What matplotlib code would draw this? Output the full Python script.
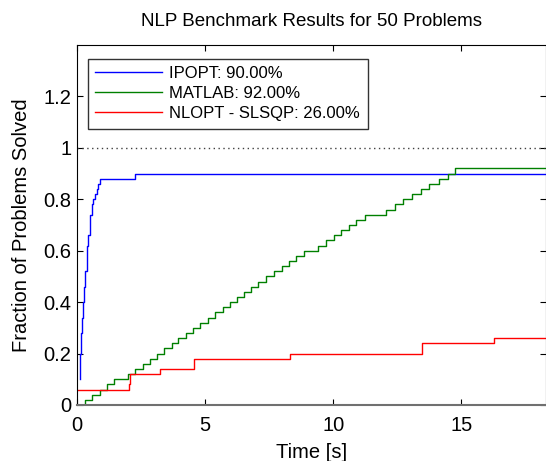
import matplotlib
matplotlib.use('Agg')
import matplotlib.pyplot as plt

plt.rcParams['font.family'] = ['Liberation Sans', 'DejaVu Sans']

# step points (time [s], fraction solved)
ipopt_t = [0.12, 0.13, 0.16, 0.20, 0.23, 0.27, 0.33, 0.39, 0.44, 0.51, 0.57, 0.62,
           0.70, 0.77, 0.83, 0.90, 2.28, 20.0]
ipopt_f = [0.10, 0.20, 0.28, 0.34, 0.40, 0.46, 0.52, 0.62, 0.66, 0.74, 0.78, 0.80,
           0.82, 0.84, 0.86, 0.88, 0.90, 0.90]

matlab_t = [0.33, 0.33, 0.60, 0.88, 1.16, 1.44, 2.00, 2.27, 2.56, 2.85, 3.13, 3.40,
            3.69, 3.96, 4.25, 4.53, 4.81, 5.10, 5.39, 5.68, 5.96, 6.24, 6.52, 6.80,
            7.08, 7.38, 7.67, 7.98, 8.28, 8.56, 8.87, 9.42, 9.73, 10.03, 10.32,
            10.63, 10.90, 11.22, 12.06, 12.41, 12.73, 13.06, 13.41, 13.74, 14.14,
            14.48, 14.74, 20.0]
matlab_f = [0.00, 0.02, 0.04, 0.06, 0.08, 0.10, 0.12, 0.14, 0.16, 0.18, 0.20, 0.22,
            0.24, 0.26, 0.28, 0.30, 0.32, 0.34, 0.36, 0.38, 0.40, 0.42, 0.44, 0.46,
            0.48, 0.50, 0.52, 0.54, 0.56, 0.58, 0.60, 0.62, 0.64, 0.66, 0.68,
            0.70, 0.72, 0.74, 0.76, 0.78, 0.80, 0.82, 0.84, 0.86, 0.88,
            0.90, 0.92, 0.92]

nlopt_t = [0.05, 2.02, 2.06, 3.25, 4.55, 8.30, 13.45, 16.26, 20.0]
nlopt_f = [0.06, 0.08, 0.12, 0.14, 0.18, 0.20, 0.24, 0.26, 0.26]

labels = ['IPOPT: 90.00%', 'MATLAB: 92.00%', 'NLOPT - SLSQP: 26.00%']

fig = plt.figure(figsize=(5.46, 4.61), dpi=100)
ax = fig.add_axes([0.141, 0.1215, 0.859, 0.7809])

ax.step(ipopt_t, ipopt_f, where='post', color='#0000ff', lw=1.0, label=labels[0])
ax.step(matlab_t, matlab_f, where='post', color='#008000', lw=1.0, label=labels[1])
ax.step(nlopt_t, nlopt_f, where='post', color='#ff0000', lw=1.0, label=labels[2])
ax.axhline(1.0, color='#404040', lw=1.0, ls=(0, (1, 2.5)))

ax.set_xlim(0, 18.3)
ax.set_ylim(0, 1.4)
ax.set_xticks([0, 5, 10, 15])
ax.set_yticks([0, 0.2, 0.4, 0.6, 0.8, 1, 1.2])
ax.set_yticklabels(['0', '0.2', '0.4', '0.6', '0.8', '1', '1.2'])
ax.tick_params(direction='in', top=True, right=True, length=4, labelsize=14.5)
ax.tick_params(axis='x', pad=8)
ax.tick_params(axis='y', pad=4)
ax.spines['bottom'].set_color('#707070')
ax.spines['bottom'].set_linewidth(1.5)

ax.set_xlabel('Time [s]', fontsize=14.5, labelpad=6)
ax.set_ylabel('Fraction of Problems Solved', fontsize=14.5, labelpad=9)
ax.set_title('NLP Benchmark Results for 50 Problems', fontsize=13.5, pad=14)

leg = ax.legend(loc='upper left', bbox_to_anchor=(0.023, 0.962), fontsize=12,
                frameon=True, fancybox=False, edgecolor='black', handlelength=4.0,
                borderpad=0.45, labelspacing=0.3, handletextpad=0.45, borderaxespad=0)
leg.get_frame().set_linewidth(1.0)

fig.savefig('out.png', dpi=100, facecolor='white')
